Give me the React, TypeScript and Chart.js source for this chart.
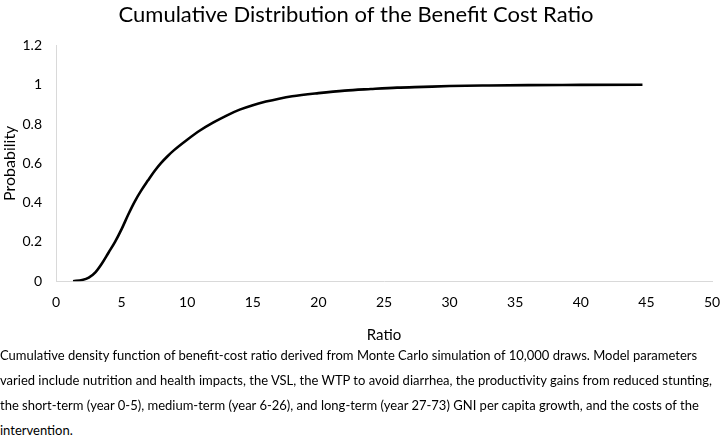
import React, { useEffect, useRef } from "react";
import { Chart, registerables } from "chart.js";

Chart.register(...registerables);

const ratios = [1.3, 2, 2.5, 3, 3.5, 4, 4.5, 5, 5.5, 6, 6.5, 7, 7.5, 8, 8.5, 9, 10, 11, 12, 13, 14, 15, 16, 17, 18, 20, 22, 24, 26, 28, 30, 33, 36, 40, 44.7];
const probabilities = [0, 0.006, 0.018, 0.045, 0.09, 0.145, 0.2, 0.265, 0.338, 0.405, 0.462, 0.512, 0.56, 0.601, 0.636, 0.667, 0.72, 0.768, 0.808, 0.843, 0.873, 0.896, 0.914, 0.929, 0.941, 0.957, 0.97, 0.978, 0.985, 0.989, 0.993, 0.996, 0.998, 0.999, 1.0];
const xTicks = [0, 5, 10, 15, 20, 25, 30, 35, 40, 45, 50];
const yTicks = [0, 0.2, 0.4, 0.6, 0.8, 1, 1.2];

const titleText = "Cumulative Distribution of the Benefit Cost Ratio";
const xTitle = "Ratio";
const yTitle = "Probability";
const captionLines = [
  "Cumulative density function of benefit-cost ratio derived from Monte Carlo simulation of 10,000 draws. Model parameters",
  "varied include nutrition and health impacts, the VSL, the WTP to avoid diarrhea, the productivity gains from reduced stunting,",
  "the short-term (year 0-5), medium-term (year 6-26), and long-term (year 27-73) GNI per capita growth, and the costs of the",
  "intervention.",
];

const FONT = "Lato, 'Open Sans', sans-serif";

export default function App() {
  const ref = useRef<HTMLCanvasElement | null>(null);
  useEffect(() => {
    document.body.style.margin = "0";
    const ctx = ref.current!;
    const chart = new Chart(ctx, {
      type: "line",
      data: {
        datasets: [
          {
            data: ratios.map((r, i) => ({ x: r, y: probabilities[i] })),
            borderColor: "#000000",
            borderWidth: 2.6,
            pointRadius: 0,
            fill: false,
            cubicInterpolationMode: "monotone",
          },
        ],
      },
      options: {
        animation: false,
        responsive: false,
        maintainAspectRatio: false,
        layout: { padding: { left: 0, right: 10, top: 0, bottom: 0 } },
        plugins: {
          legend: { display: false },
          tooltip: { enabled: false },
          title: {
            display: true,
            text: titleText,
            color: "#000",
            font: { family: FONT, size: 22, weight: "normal" },
            padding: { top: 2, bottom: 17 },
          },
        },
        scales: {
          x: {
            type: "linear",
            min: 0,
            max: 50,
            afterBuildTicks: (s: any) => {
              s.ticks = xTicks.map((v) => ({ value: v }));
            },
            afterFit: (s: any) => {
              s.paddingLeft = 0;
              s.paddingRight = 0;
            },
            grid: { display: false, drawTicks: false },
            border: { display: true, color: "#d9d9d9", width: 1 },
            ticks: {
              color: "#000",
              padding: 13,
              maxRotation: 0,
              font: { family: FONT, size: 14 },
            },
            title: {
              display: true,
              text: xTitle,
              color: "#000",
              font: { family: FONT, size: 15 },
              padding: { top: 2, bottom: 4 },
            },
          },
          y: {
            type: "linear",
            min: 0,
            max: 1.2,
            afterBuildTicks: (s: any) => {
              s.ticks = yTicks.map((v) => ({ value: v }));
            },
            afterFit: (s: any) => {
              s.width = 56;
            },
            grid: { display: false, drawTicks: false },
            border: { display: true, color: "#d9d9d9", width: 1 },
            ticks: {
              color: "#000",
              padding: 14,
              font: { family: FONT, size: 14 },
              callback: (v: any) => String(Math.round(Number(v) * 10) / 10),
            },
            title: {
              display: true,
              text: yTitle,
              color: "#000",
              font: { family: FONT, size: 16 },
              padding: { top: 0, bottom: 0 },
            },
          },
        },
      },
    });
    return () => chart.destroy();
  }, []);

  const captionTops = [346, 371, 396, 421];
  return (
    <div style={{ position: "relative", width: 722, height: 437, overflow: "hidden", background: "#fff" }}>
      <canvas ref={ref} width={722} height={348} style={{ position: "absolute", left: 0, top: 0, width: 722, height: 348 }} />
      {captionLines.map((line, i) => (
        <div
          key={i}
          style={{
            position: "absolute",
            left: 0,
            top: captionTops[i],
            whiteSpace: "nowrap",
            fontFamily: FONT,
            fontSize: 13,
            lineHeight: "18px",
            color: "#000",
          }}
        >
          {line}
        </div>
      ))}
    </div>
  );
}
